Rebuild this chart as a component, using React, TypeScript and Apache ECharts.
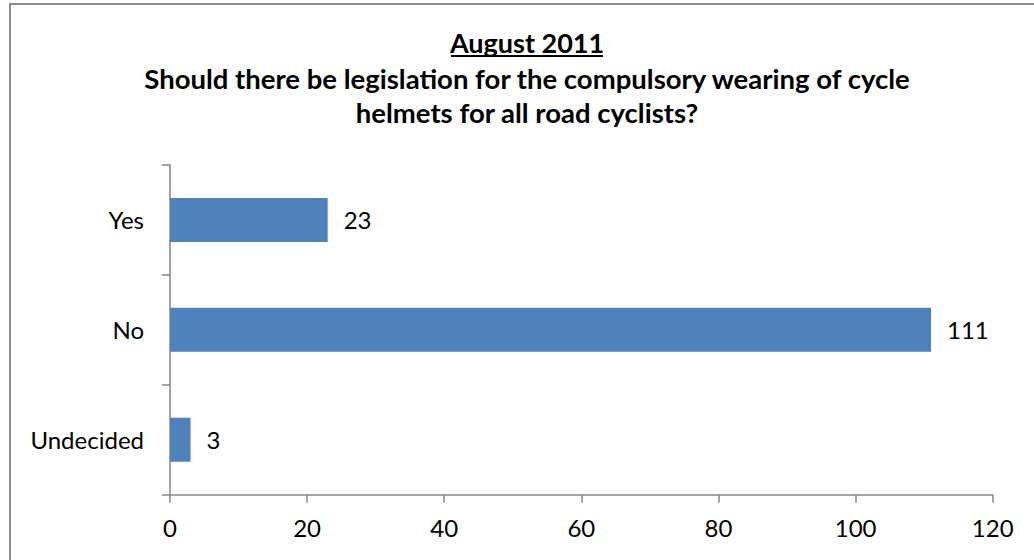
import React, { useEffect, useRef } from "react";
import * as echarts from "echarts";

const categories = ["Yes", "No", "Undecided"];
const values = [23, 111, 3];
const xTicks = { min: 0, max: 120, interval: 20 };
const titleLines = [
  "August 2011",
  "Should there be legislation for the compulsory wearing of cycle",
  "helmets for all road cyclists?",
];

const FONT = "Lato, 'Open Sans', sans-serif";

export default function App() {
  const ref = useRef<HTMLDivElement>(null);
  useEffect(() => {
    if (!ref.current) return;
    const chart = echarts.init(ref.current, null, { renderer: "svg" });
    const axisColor = "#868686";
    chart.setOption({
      animation: false,
      backgroundColor: "#ffffff",
      textStyle: { fontFamily: FONT },
      grid: { left: 170, right: 41.3, top: 165, bottom: 65.3, containLabel: false },
      xAxis: {
        type: "value",
        min: xTicks.min,
        max: xTicks.max,
        interval: xTicks.interval,
        axisLine: { show: true, lineStyle: { color: axisColor, width: 1.5 } },
        axisTick: { show: true, length: 8, lineStyle: { color: axisColor, width: 1.5 } },
        splitLine: { show: false },
        axisLabel: { color: "#000", fontSize: 24, fontFamily: FONT, margin: 21 },
      },
      yAxis: {
        type: "category",
        inverse: true,
        data: categories,
        axisLine: { show: true, lineStyle: { color: axisColor, width: 1.5 } },
        axisTick: { show: true, length: 8, alignWithLabel: false, lineStyle: { color: axisColor, width: 1.5 } },
        axisLabel: { color: "#000", fontSize: 24, fontFamily: FONT, margin: 26 },
        splitLine: { show: false },
      },
      series: [
        {
          type: "bar",
          data: values,
          barWidth: "40%",
          itemStyle: { color: "#4F81BD" },
          label: {
            show: true,
            position: "right",
            distance: 16,
            color: "#000",
            fontSize: 24,
            fontFamily: FONT,
          },
        },
      ],
      graphic: [
        {
          type: "rect",
          shape: { x: 10, y: 4, width: 1100, height: 700 },
          style: { fill: "none", stroke: "#8c8c8c", lineWidth: 2 },
          silent: true,
          z: -10,
        },
        {
          type: "text",
          x: 527,
          y: 42.5,
          style: {
            text: titleLines[0],
            font: `bold 27px ${FONT}`,
            fill: "#000",
            align: "center",
            verticalAlign: "middle",
          },
        },
        {
          type: "line",
          shape: { x1: 451, y1: 56, x2: 603, y2: 56 },
          style: { stroke: "#000", lineWidth: 2 },
        },
        {
          type: "text",
          x: 527,
          y: 78,
          style: {
            text: titleLines[1],
            font: `bold 27.5px ${FONT}`,
            fill: "#000",
            align: "center",
            verticalAlign: "middle",
          },
        },
        {
          type: "text",
          x: 527,
          y: 112.5,
          style: {
            text: titleLines[2],
            font: `bold 27.5px ${FONT}`,
            fill: "#000",
            align: "center",
            verticalAlign: "middle",
          },
        },
      ],
    });
    return () => chart.dispose();
  }, []);
  return (
    <div
      ref={ref}
      style={{ position: "fixed", left: 0, top: 0, width: 1034, height: 560 }}
    />
  );
}
